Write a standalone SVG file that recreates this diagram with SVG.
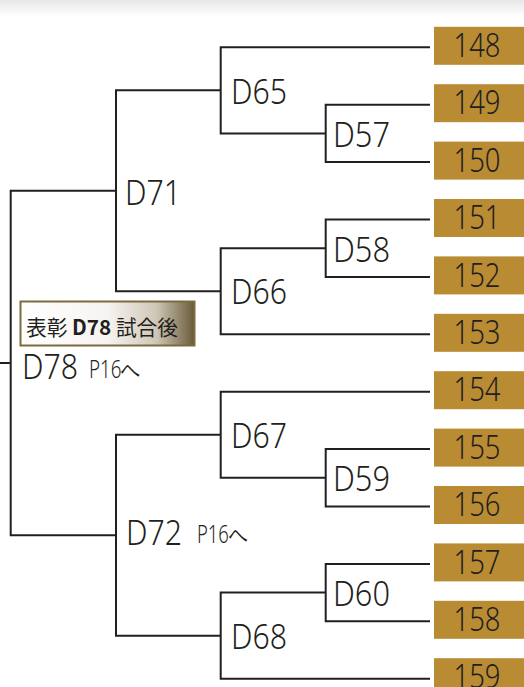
<svg xmlns="http://www.w3.org/2000/svg" width="524" height="687" viewBox="0 0 524 687">
<defs>
<linearGradient id="topfade" x1="0" y1="0" x2="0" y2="1">
<stop offset="0" stop-color="#e9e7e8"/>
<stop offset="1" stop-color="#ffffff"/>
</linearGradient>
<linearGradient id="banner" x1="0" y1="0" x2="1" y2="0">
<stop offset="0" stop-color="#ffffff"/>
<stop offset="0.5" stop-color="#f6f4f1"/>
<stop offset="0.78" stop-color="#cfc7b6"/>
<stop offset="1" stop-color="#6a5a3a"/>
</linearGradient>
</defs>
<style>
.ln{fill:none;stroke:#231f20;stroke-width:2;stroke-linejoin:miter;stroke-linecap:butt}
.lbl{font-family:"Noto Sans","Open Sans",sans-serif;font-size:34px;font-weight:350;fill:#231f20}
.num{font-family:"Noto Sans","Open Sans",sans-serif;font-size:33px;font-weight:350;fill:#231f20;text-anchor:middle}
.box{fill:#b98b33}
.sm{font-family:"Noto Sans","Open Sans",sans-serif;font-size:26px;font-weight:350;fill:#231f20}
.ban{font-family:"Noto Sans CJK JP","Noto Sans",sans-serif;font-size:21px;fill:#231f20}
</style>
<rect x="0" y="0" width="524" height="16" fill="url(#topfade)"/>
<g id="connectors">
<path class="ln" d="M0,363 H10.7 M116,190.8 H10.7 V535.2 H116"/>
<path class="ln" d="M220.7,90.35 H116 V291.25 H220.7"/>
<path class="ln" d="M430,47.3 H220.7 V133.4 H325.7"/>
<path class="ln" d="M430,104.7 H325.7 V162.1 H430"/>
<path class="ln" d="M430,219.5 H325.7 V276.9 H430"/>
<path class="ln" d="M325.7,248.2 H220.7 V334.3 H430"/>
<path class="ln" d="M220.7,434.75 H116 V635.65 H220.7"/>
<path class="ln" d="M430,391.7 H220.7 V477.8 H325.7"/>
<path class="ln" d="M430,449.1 H325.7 V506.5 H430"/>
<path class="ln" d="M430,563.9 H325.7 V621.3 H430"/>
<path class="ln" d="M325.7,592.6 H220.7 V678.7 H430"/>
</g>
<g id="D78"><text class="lbl" x="22" y="379" textLength="56" lengthAdjust="spacingAndGlyphs">D78</text><text class="sm" x="89" y="378" textLength="52" lengthAdjust="spacingAndGlyphs">P16へ</text></g>
<g id="banner-D78">
<rect x="20.5" y="301.5" width="174" height="44" fill="url(#banner)" stroke="#7b6b3e" stroke-width="2"/>
<text class="ban" x="26" y="335" textLength="152" lengthAdjust="spacingAndGlyphs"><tspan>表彰 </tspan><tspan font-weight="bold">D78</tspan><tspan> 試合後</tspan></text>
</g>
<g id="D71"><text class="lbl" x="125" y="205" textLength="56" lengthAdjust="spacingAndGlyphs">D71</text></g>
<g id="D72"><text class="lbl" x="126" y="545" textLength="56" lengthAdjust="spacingAndGlyphs">D72</text><text class="sm" x="197" y="543" textLength="51" lengthAdjust="spacingAndGlyphs">P16へ</text></g>
<g id="D65"><text class="lbl" x="231" y="104" textLength="56" lengthAdjust="spacingAndGlyphs">D65</text></g>
<g id="D66"><text class="lbl" x="231" y="304" textLength="56" lengthAdjust="spacingAndGlyphs">D66</text></g>
<g id="D67"><text class="lbl" x="231" y="448" textLength="56" lengthAdjust="spacingAndGlyphs">D67</text></g>
<g id="D68"><text class="lbl" x="231" y="649" textLength="56" lengthAdjust="spacingAndGlyphs">D68</text></g>
<g id="D57"><text class="lbl" x="333" y="147" textLength="57" lengthAdjust="spacingAndGlyphs">D57</text></g>
<g id="D58"><text class="lbl" x="333" y="262" textLength="57" lengthAdjust="spacingAndGlyphs">D58</text></g>
<g id="D59"><text class="lbl" x="333" y="491" textLength="57" lengthAdjust="spacingAndGlyphs">D59</text></g>
<g id="D60"><text class="lbl" x="333" y="606" textLength="57" lengthAdjust="spacingAndGlyphs">D60</text></g>
<g id="n148"><rect class="box" x="434" y="26.8" width="90" height="38"/><text class="num" x="477" y="57" textLength="47" lengthAdjust="spacingAndGlyphs">148</text></g>
<g id="n149"><rect class="box" x="434" y="84.2" width="90" height="38"/><text class="num" x="477" y="114.4" textLength="47" lengthAdjust="spacingAndGlyphs">149</text></g>
<g id="n150"><rect class="box" x="434" y="141.6" width="90" height="38"/><text class="num" x="477" y="171.8" textLength="47" lengthAdjust="spacingAndGlyphs">150</text></g>
<g id="n151"><rect class="box" x="434" y="199" width="90" height="38"/><text class="num" x="477" y="229.2" textLength="47" lengthAdjust="spacingAndGlyphs">151</text></g>
<g id="n152"><rect class="box" x="434" y="256.4" width="90" height="38"/><text class="num" x="477" y="286.6" textLength="47" lengthAdjust="spacingAndGlyphs">152</text></g>
<g id="n153"><rect class="box" x="434" y="313.8" width="90" height="38"/><text class="num" x="477" y="344" textLength="47" lengthAdjust="spacingAndGlyphs">153</text></g>
<g id="n154"><rect class="box" x="434" y="371.2" width="90" height="38"/><text class="num" x="477" y="401.4" textLength="47" lengthAdjust="spacingAndGlyphs">154</text></g>
<g id="n155"><rect class="box" x="434" y="428.6" width="90" height="38"/><text class="num" x="477" y="458.8" textLength="47" lengthAdjust="spacingAndGlyphs">155</text></g>
<g id="n156"><rect class="box" x="434" y="486" width="90" height="38"/><text class="num" x="477" y="516.2" textLength="47" lengthAdjust="spacingAndGlyphs">156</text></g>
<g id="n157"><rect class="box" x="434" y="543.4" width="90" height="38"/><text class="num" x="477" y="573.6" textLength="47" lengthAdjust="spacingAndGlyphs">157</text></g>
<g id="n158"><rect class="box" x="434" y="600.8" width="90" height="38"/><text class="num" x="477" y="631" textLength="47" lengthAdjust="spacingAndGlyphs">158</text></g>
<g id="n159"><rect class="box" x="434" y="658.2" width="90" height="38"/><text class="num" x="477" y="688.4" textLength="47" lengthAdjust="spacingAndGlyphs">159</text></g>
</svg>
